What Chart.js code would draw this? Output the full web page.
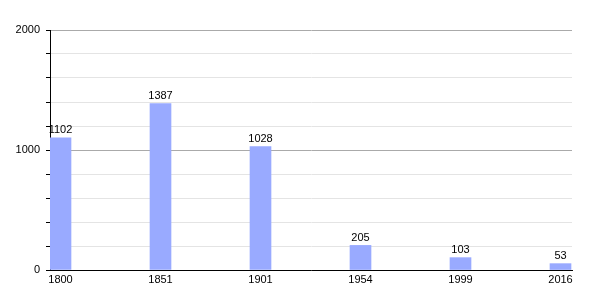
<!DOCTYPE html>
<html>
<head>
<meta charset="utf-8">
<script src="https://cdn.jsdelivr.net/npm/chart.js@4"></script>
<style>
  html, body { margin: 0; padding: 0; background: #fff; }
  #wrap { width: 600px; height: 300px; }
</style>
</head>
<body>
<div id="wrap"><canvas id="popChart"></canvas></div>
<script>
const years = ["1800", "1851", "1901", "1954", "1999", "2016"];
const population = [1102, 1387, 1028, 205, 103, 53];
const yTicks = [0, 1000, 2000];

const points = population.map((v, i) => ({ x: i, y: v }));

// draws the value above each bar
const valueLabels = {
    id: "valueLabels",
    afterDatasetsDraw(chart) {
        const c = chart.ctx;
        const meta = chart.getDatasetMeta(0);
        c.save();
        c.font = "11px 'Liberation Sans', Arial, sans-serif";
        c.fillStyle = "#000";
        c.textAlign = "center";
        c.textBaseline = "bottom";
        meta.data.forEach((bar, i) => {
            c.fillText(String(population[i]), bar.x, bar.y - 2);
        });
        c.restore();
    }
};

const ctx = document.getElementById("popChart");

new Chart(ctx, {
    type: "bar",
    data: {
        datasets: [{
            data: points,
            backgroundColor: "#99aaff",
            barThickness: 21
        }]
    },
    options: {
        responsive: true,
        maintainAspectRatio: false,
        animation: false,
        layout: {
            padding: { top: 30, right: 28, left: 0, bottom: 0 }
        },
        plugins: {
            legend: { display: false },
            tooltip: { enabled: false }
        },
        scales: {
            x: {
                type: "linear",
                min: -0.105,
                max: 5.115,
                offset: false,
                afterFit(scale) { scale.height = 30; },
                afterBuildTicks(scale) {
                    scale.ticks = years.map((y, i) => ({ value: i }));
                },
                grid: { display: false, drawTicks: false },
                border: { color: "#000", width: 1 },
                ticks: {
                    color: "#000",
                    padding: 3,
                    maxRotation: 0,
                    autoSkip: false,
                    font: { family: "'Liberation Sans', Arial, sans-serif", size: 11 },
                    callback: (v) => years[v] ?? ""
                }
            },
            y: {
                min: 0,
                max: 2000,
                afterFit(scale) { scale.width = 50; },
                grid: {
                    color: (c) => c.tick && c.tick.value % 1000 === 0 ? "#aaaaaa" : "#e4e4e4",
                    tickColor: "#000",
                    tickLength: 4
                },
                border: { color: "#000", width: 1 },
                ticks: {
                    stepSize: 200,
                    color: "#000",
                    padding: 6,
                    font: { family: "'Liberation Sans', Arial, sans-serif", size: 11 },
                    callback: (v) => yTicks.includes(v) ? String(v) : ""
                }
            }
        }
    },
    plugins: [valueLabels]
});
</script>
</body>
</html>
